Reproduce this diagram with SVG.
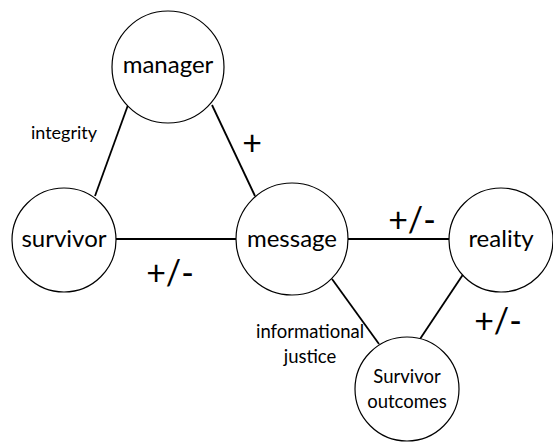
<svg xmlns="http://www.w3.org/2000/svg" width="553" height="442" viewBox="0 0 553 442">
  <style>
    .node circle { fill: #ffffff; stroke: #000000; stroke-width: 1.2; }
    .node text, .label { font-family: Lato, "Open Sans", sans-serif; font-weight: 400; fill: #000000; text-anchor: middle; }
    .big { font-size: 24px; }
    .small { font-size: 18.5px; }
    #connectors line { stroke: #000000; stroke-width: 1.8; }
  </style>
  <rect width="553" height="442" fill="#ffffff"/>

  <g id="connectors">
    <line x1="128" y1="105" x2="95" y2="196"/>
    <line x1="212" y1="105" x2="255" y2="196"/>
    <line x1="116" y1="239" x2="236" y2="239"/>
    <line x1="348" y1="239" x2="452" y2="239"/>
    <line x1="332" y1="279" x2="379" y2="344"/>
    <line x1="464" y1="273" x2="420" y2="339"/>
  </g>

  <g id="manager" class="node">
    <circle cx="168" cy="67" r="56"/>
    <text class="big" x="168" y="73">manager</text>
  </g>
  <g id="survivor" class="node">
    <circle cx="64" cy="240" r="52"/>
    <text class="big" x="64" y="247">survivor</text>
  </g>
  <g id="message" class="node">
    <circle cx="292" cy="239" r="56"/>
    <text class="big" x="292" y="247">message</text>
  </g>
  <g id="reality" class="node">
    <circle cx="501" cy="240" r="52"/>
    <text class="big" x="501" y="247">reality</text>
  </g>
  <g id="outcomes" class="node">
    <circle cx="407" cy="389" r="52"/>
    <text class="small" x="407" y="383">Survivor</text>
    <text class="small" x="407" y="408">outcomes</text>
  </g>

  <g id="labels">
    <text class="label" x="64" y="139" font-size="18">integrity</text>
    <text class="label" x="252" y="155" font-size="34">+</text>
    <text class="label" x="170" y="285" font-size="34">+/-</text>
    <text class="label" x="412" y="232" font-size="34">+/-</text>
    <text class="label" x="498" y="333" font-size="34">+/-</text>
    <text class="label" x="310" y="338" font-size="18.5">informational</text>
    <text class="label" x="310" y="363" font-size="18.5">justice</text>
  </g>
</svg>
